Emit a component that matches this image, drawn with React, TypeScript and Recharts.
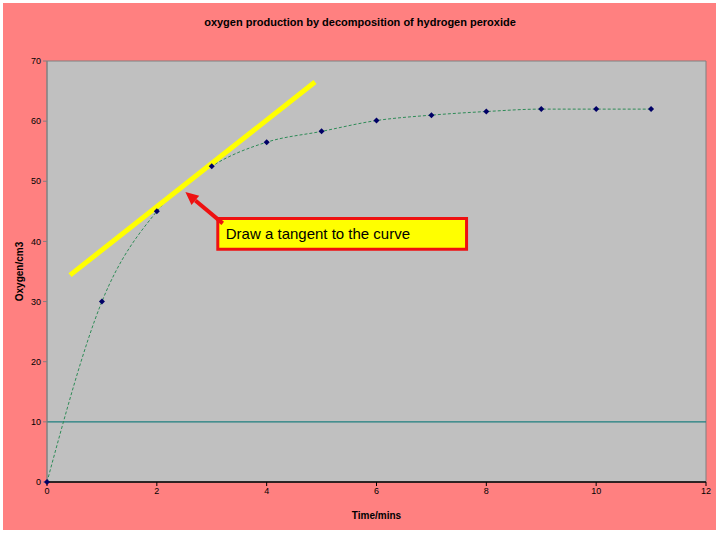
import {
  ComposedChart,
  Line,
  XAxis,
  YAxis,
  ReferenceLine,
  ReferenceArea,
  CartesianGrid,
} from "recharts";

const times = [0, 1, 2, 3, 4, 5, 6, 7, 8, 9, 10, 11];
const oxygen = [0, 30, 45, 52.5, 56.5, 58.3, 60.1, 61, 61.6, 62, 62, 62];
const xTicks = [0, 2, 4, 6, 8, 10, 12];
const yTicks = [0, 10, 20, 30, 40, 50, 60, 70];

const tangent = [
  { x: 0.42, y: 34.4 },
  { x: 4.88, y: 66.5 },
];
const arrow = [
  { x: 3.2, y: 43 },
  { x: 2.52, y: 48.2 },
];

const data = times.map((t, i) => ({ t, o2: oxygen[i] }));

const font = "'Liberation Sans', Arial, sans-serif";

function Diamond(props: any) {
  const { cx, cy } = props;
  if (cx == null || cy == null) return null;
  return (
    <polygon
      points={`${cx},${cy - 3} ${cx + 3},${cy} ${cx},${cy + 3} ${cx - 3},${cy}`}
      fill="#000066"
    />
  );
}

function Arrow(props: any) {
  const { x1, y1, x2, y2 } = props;
  if (x1 == null) return null;
  const ang = Math.atan2(y2 - y1, x2 - x1);
  const len = 13;
  const w = 6;
  const bx = x2 - len * Math.cos(ang);
  const by = y2 - len * Math.sin(ang);
  const px = -Math.sin(ang) * w;
  const py = Math.cos(ang) * w;
  return (
    <g>
      <line x1={x1} y1={y1} x2={bx} y2={by} stroke="#EE1111" strokeWidth={4} />
      <polygon
        points={`${x2},${y2} ${bx + px},${by + py} ${bx - px},${by - py}`}
        fill="#EE1111"
      />
    </g>
  );
}

export default function App() {
  return (
    <div
      style={{
        position: "fixed",
        left: 0,
        top: 0,
        width: 720,
        height: 540,
        background: "#FFFFFF",
        fontFamily: font,
      }}
    >
      <div
        style={{
          position: "absolute",
          left: 3,
          top: 3,
          width: 713,
          height: 527,
          background: "#FF8080",
        }}
      />
      <div
        style={{
          position: "absolute",
          left: 0,
          top: 16,
          width: 720,
          textAlign: "center",
          fontSize: 11,
          fontWeight: "bold",
          color: "#000",
        }}
      >
        oxygen production by decomposition of hydrogen peroxide
      </div>
      <div style={{ position: "absolute", left: 0, top: 0 }}>
        <ComposedChart
          width={720}
          height={540}
          data={data}
          margin={{ top: 61, right: 14, left: 17, bottom: 28 }}
        >
          <CartesianGrid
            fill="#C0C0C0"
            horizontal={false}
            vertical={false}
          />
          <ReferenceArea
            x1={0}
            x2={12}
            y1={0}
            y2={70}
            fill="none"
            stroke="#808080"
            strokeWidth={1}
          />
          <XAxis
            type="number"
            dataKey="t"
            domain={[0, 12]}
            ticks={xTicks}
            height={30}
            tick={{ fontSize: 9, fill: "#000", fontFamily: font }}
            tickSize={4}
            tickLine={{ stroke: "#000" }}
            axisLine={{ stroke: "#000", strokeWidth: 1.5 }}
            label={{
              value: "Time/mins",
              position: "bottom",
              offset: 0,
              fontSize: 10,
              fontWeight: "bold",
              fill: "#000",
              fontFamily: font,
            }}
          />
          <YAxis
            type="number"
            domain={[0, 70]}
            ticks={yTicks}
            width={30}
            tick={{ fontSize: 9, fill: "#000", fontFamily: font }}
            tickSize={4}
            tickLine={{ stroke: "#808080" }}
            axisLine={{ stroke: "#808080" }}
            label={{
              value: "Oxygen/cm3",
              angle: -90,
              position: "insideLeft",
              offset: 2,
              fontSize: 10,
              fontWeight: "bold",
              fill: "#000",
              fontFamily: font,
              style: { textAnchor: "middle" },
            }}
          />
          <ReferenceLine y={10} stroke="#1E7F7F" strokeWidth={1.2} />
          <Line
            type="monotone"
            dataKey="o2"
            stroke="#2E8B57"
            strokeWidth={1}
            strokeDasharray="3 2"
            dot={<Diamond />}
            isAnimationActive={false}
          />
          <ReferenceLine
            segment={tangent}
            stroke="#FFFF00"
            strokeWidth={5}
            ifOverflow="visible"
          />
          <ReferenceLine
            segment={arrow}
            shape={<Arrow />}
            ifOverflow="visible"
          />
          <ReferenceArea
            x1={3.11}
            x2={7.64}
            y1={38.7}
            y2={43.8}
            fill="#FFFF00"
            fillOpacity={1}
            stroke="#EE1111"
            strokeWidth={3}
            ifOverflow="visible"
            label={{
              value: "Draw a tangent to the curve",
              position: "insideLeft",
              offset: 8,
              fontSize: 15,
              fill: "#000",
              fontFamily: font,
            }}
          />
        </ComposedChart>
      </div>
    </div>
  );
}
